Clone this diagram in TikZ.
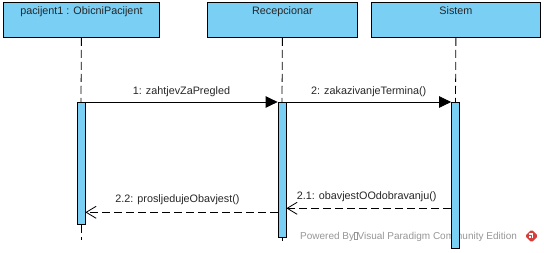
\documentclass[tikz,border=0pt]{standalone}
\usepackage{fontspec}
\setmainfont{Liberation Sans}
\usetikzlibrary{arrows.meta}
\definecolor{vpblue}{RGB}{122,207,245}
\definecolor{wmgray}{RGB}{150,150,150}
\definecolor{vpred}{RGB}{214,62,60}
\begin{document}
\begin{tikzpicture}[x=1pt,y=-1pt,
  objbox/.style={draw=black, fill=vpblue, line width=0.8pt, minimum height=35pt,
    inner sep=0pt, anchor=north west},
  actbar/.style={draw=black, fill=vpblue, line width=0.8pt, minimum width=8pt,
    inner sep=0pt, anchor=north},
  lifeline/.style={draw=black, line width=0.8pt, dash pattern=on 8pt off 4pt},
  callmsg/.style={draw=black, line width=0.8pt,
    -{Triangle[length=12pt,width=11.5pt]}},
  replymsg/.style={draw=black, line width=0.8pt, dash pattern=on 8pt off 4pt,
    -{Straight Barb[length=10pt,width=12pt]}},
  lbl/.style={font=\fontsize{10.8}{13}\selectfont, text=black!85, inner sep=0pt,
    anchor=base},
  wm/.style={font=\fontsize{10}{12}\selectfont, text=wmgray, inner sep=0pt,
    anchor=base west},
]
\useasboundingbox (0,0) rectangle (544,252);

% lifeline heads
\node[objbox, minimum width=156pt] (b1) at (3,2) {};
\node[objbox, minimum width=150pt] (b2) at (207,2) {};
\node[objbox, minimum width=169pt] (b3) at (371,2) {};
\node[lbl, yshift=-12pt] (t1) at (b1.north) {pacijent1 : ObicniPacijent};
\node[lbl, yshift=-12pt] (t2) at (b2.north) {Recepcionar};
\node[lbl, yshift=-12pt] (t3) at (b3.north) {Sistem};

% edition note
\node[wm] (wmtext) at (300,239) {Powered By{\color{wmgray}\fboxsep=0pt\fboxrule=0.5pt\fbox{\rule{0pt}{7pt}\hspace{2.5pt}}}Visual Paradigm Community Edition};
\fill[vpred, rounded corners=1.5pt] (531.5,229.5) -- (538,236) -- (531.5,242.5) -- (525,236) -- cycle;
\draw[white, line width=1.2pt, line cap=round] (529.5,234) -- (532.5,234) -- (532.5,237.5);
\fill[white] (529.2,236) rectangle (531,238.2);

% activation bars
\node[actbar, minimum height=122pt] (a1) at (81,102) {};
\node[actbar, minimum height=135pt] (a2) at (282,102) {};
\node[actbar, minimum height=146pt] (a3) at (455.5,102) {};

% lifelines
\coordinate (e1) at (81,240);
\coordinate (e2) at (282,241);
\draw[lifeline] (b1.south) -- (a1.north);
\draw[lifeline] (b2.south) -- (a2.north);
\draw[lifeline] (b3.south) -- (a3.north);
\draw[lifeline] (a1.south) -- (e1);
\draw[lifeline] (a2.south) -- (e2);

% calls
\draw[callmsg] (a1.north east) -- (a2.north west)
  node[lbl, midway, yshift=8pt] {1: zahtjevZaPregled};
\draw[callmsg] (a2.north east) -- (a3.north west)
  node[lbl, midway, yshift=8pt] {2: zakazivanjeTermina()};

% replies
\coordinate (y21) at (0,208.3);
\coordinate (y22) at (0,212.3);
\draw[replymsg] (a3.west |- y21) -- (a2.east |- y21)
  node[lbl, midway, yshift=9pt, xshift=-2pt] {2.1: obavjestOOdobravanju()};
\draw[replymsg] (a2.west |- y22) -- (a1.east |- y22)
  node[lbl, midway, yshift=10pt, xshift=-4pt] {2.2: prosljedujeObavjest()};
\end{tikzpicture}
\end{document}
